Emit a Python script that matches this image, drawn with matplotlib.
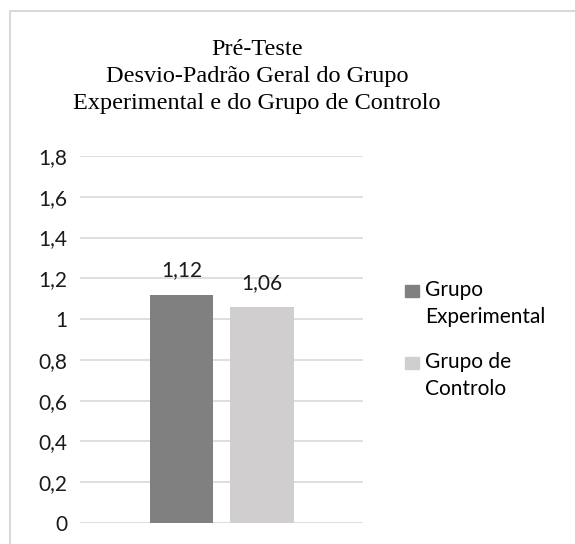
import matplotlib
matplotlib.use("Agg")
import matplotlib.pyplot as plt
from matplotlib.patches import Rectangle

# data
SERIES = ["Grupo\nExperimental", "Grupo de\nControlo"]
VALUES = [1.12, 1.06]
VALUE_LABELS = ["1,12", "1,06"]
YTICKS = [0, 0.2, 0.4, 0.6, 0.8, 1.0, 1.2, 1.4, 1.6, 1.8]
YTICK_LABELS = ["0", "0,2", "0,4", "0,6", "0,8", "1", "1,2", "1,4", "1,6", "1,8"]
COLORS = ["#808080", "#D0CECE"]
TITLE = "Pré-Teste\nDesvio-Padrão Geral do Grupo\nExperimental e do Grupo de Controlo"

W, H = 575, 544
SANS = "Lato"
SERIF = "Liberation Serif"
GRID = "#D9D9D9"
TXT = "#1a1a1a"
FS = 15


def px(x, y):
    """pixel coords (top-left origin) -> figure fraction"""
    return x / W, 1 - y / H


def main():
    fig = plt.figure(figsize=(W / 100, H / 100), dpi=100)

    # outer chart border (runs off the right/bottom edge like the source)
    x0, y0 = px(10, 11)
    fig.add_artist(Rectangle((x0, -0.1), 1.2, y0 + 0.1, transform=fig.transFigure,
                             fill=False, edgecolor=GRID, linewidth=1.5))

    left, top = px(80, 156)
    _, bottom = px(0, 523)
    ax = fig.add_axes([left, bottom, 283 / W, top - bottom])

    width = 0.224
    offsets = [-0.141, 0.143]
    for i, v in enumerate(VALUES):
        ax.bar(offsets[i], v, width=width, color=COLORS[i], zorder=3)
        ax.annotate(VALUE_LABELS[i], (offsets[i], v), xytext=(0, 13),
                    textcoords="offset points", ha="center", va="baseline",
                    fontsize=FS, family=SANS, color=TXT)

    ax.set_xlim(-0.5, 0.5)
    ax.set_ylim(0, 1.8)
    ax.set_xticks([])
    ax.set_yticks(YTICKS)
    ax.set_yticklabels(YTICK_LABELS, family=SANS, fontsize=FS, color=TXT)
    ax.tick_params(axis="y", length=0, pad=9)
    for s in ax.spines.values():
        s.set_visible(False)
    ax.yaxis.grid(True, color=GRID, linewidth=1.2, zorder=0)
    ax.set_axisbelow(True)

    # title, one line at a time so the spacing matches
    for line, base in zip(TITLE.split("\n"), [55, 82, 109]):
        tx, ty = px(257, base)
        fig.text(tx, ty, line, ha="center", va="baseline", family=SERIF,
                 fontsize=17.5, color="#000000")

    # legend, drawn like Excel's (swatch aligned with the first line)
    leg_top = [285, 357]
    for i, name in enumerate(SERIES):
        sx, sy = px(405, leg_top[i] + 12)
        fig.add_artist(Rectangle((sx, sy), 14 / W, 12 / H, transform=fig.transFigure,
                                 color=COLORS[i]))
        for j, line in enumerate(name.split("\n")):
            lx, ly = px(425, leg_top[i] + 11 + 27 * j)
            fig.text(lx, ly, line, ha="left", va="baseline", family=SANS,
                     fontsize=FS, color="#000000")

    fig.savefig("out.png", dpi=100)


if __name__ == "__main__":
    main()
